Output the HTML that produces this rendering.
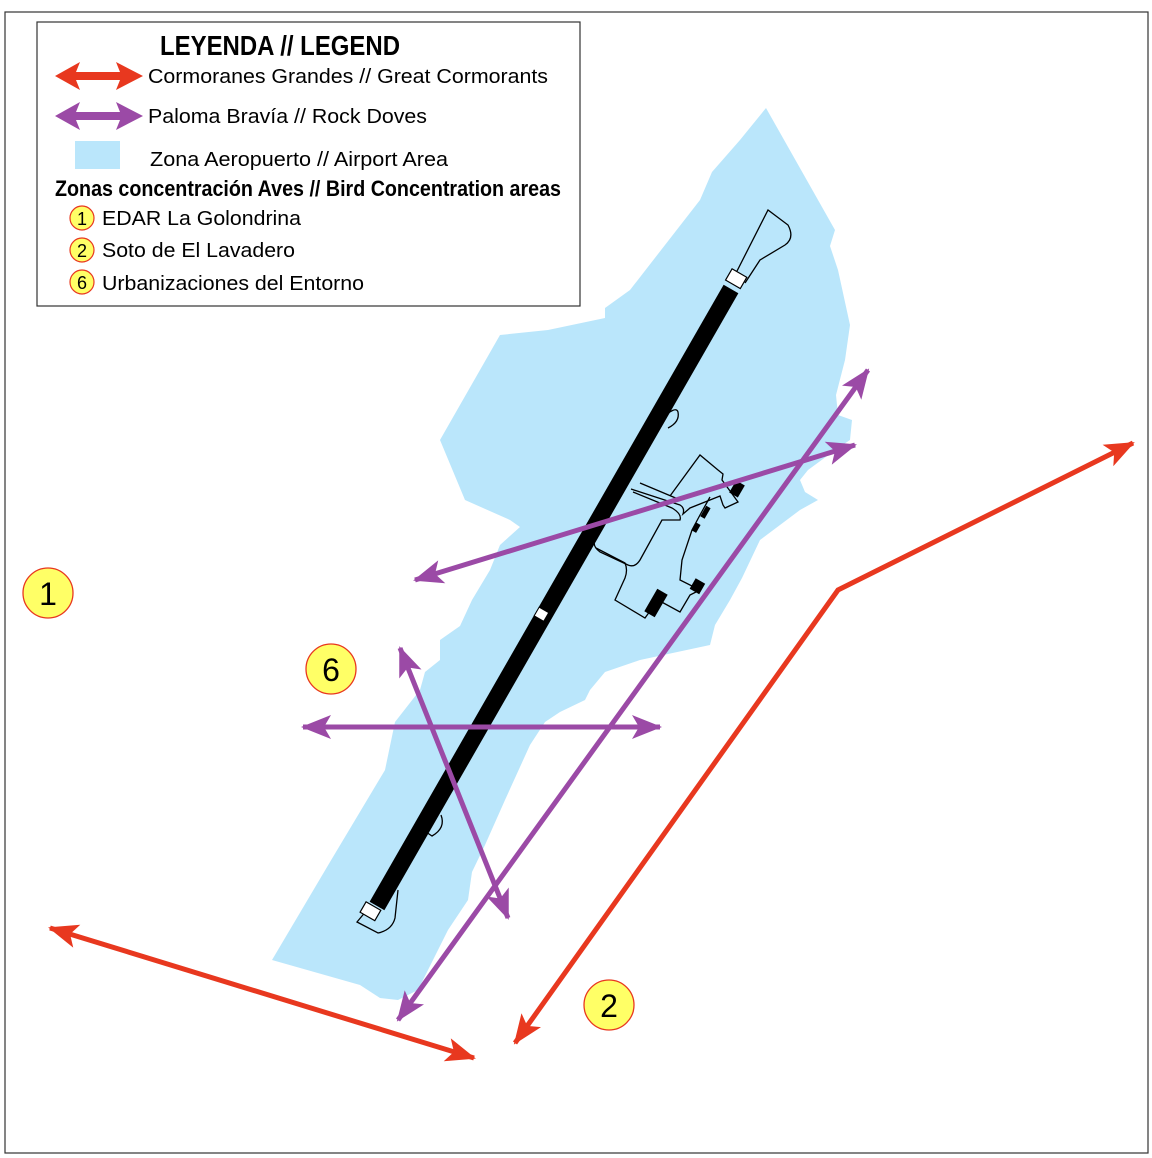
<!DOCTYPE html>
<html><head><meta charset="utf-8"><style>
html,body{margin:0;padding:0;background:#fff;}
svg{display:block;}
text{font-family:"Liberation Sans",sans-serif;fill:#000;}
</style></head><body>
<svg width="1152" height="1158" viewBox="0 0 1152 1158" xmlns="http://www.w3.org/2000/svg">
<defs>
<marker id="hr" markerUnits="userSpaceOnUse" viewBox="0 0 30 24" markerWidth="30" markerHeight="24" refX="28" refY="12" orient="auto-start-reverse">
<path d="M0,0 L30,12 L0,24 L7,12 Z" fill="#e8381f"/></marker>
<marker id="hp" markerUnits="userSpaceOnUse" viewBox="0 0 30 24" markerWidth="30" markerHeight="24" refX="28" refY="12" orient="auto-start-reverse">
<path d="M0,0 L30,12 L0,24 L7,12 Z" fill="#9b4aa6"/></marker>
</defs>
<rect x="5" y="12" width="1143" height="1141" fill="#fff" stroke="#333" stroke-width="1.2"/>
<!-- airport area -->
<path fill="#bae6fb" d="M766,108 L835,230 L830,246 L838,270 L850,325 L845,360 L836,395 L838,415 L852,420 L850,440 L838,448 L808,470 L800,480 L805,492 L818,500 L800,510 L760,540 L742,578 L730,600 L715,625 L710,645 L640,660 L605,672 L590,690 L585,700 L560,712 L545,722 L530,745 L505,800 L485,845 L472,872 L468,900 L448,930 L418,990 L398,1000 L380,998 L360,985 L272,960 L330,862 L385,770 L395,722 L420,690 L425,672 L440,660 L440,640 L460,626 L472,600 L490,570 L500,545 L520,527 L510,520 L465,500 L440,440 L500,335 L548,330 L605,318 L605,308 L630,290 L700,200 L712,172 L740,140 Z"/>
<!-- terminal outlines -->
<g fill="none" stroke="#000" stroke-width="1.3">
<path d="M640,483 L678,499 M631,489 L680,505 Q685,508 683,514 L690,508 L720,496 L723,505 L725,508 L738,502 L722,480 L723,474 L718,470 L700,455 L670,496 M633,492 L672,508 Q682,514 680,520 L662,520 L640,560 Q635,568 628,565 L600,552 Q592,546 595,540"/>
<path d="M596,548 L625,563 Q628,570 625,578 L615,600 L645,618 L658,600 L680,612 L690,595 L700,590 L680,580 L682,560 L692,530 L700,515 L710,497"/>
<path d="M660,420 Q676,405 678,412 Q680,422 668,428"/>
<path d="M441,815 Q446,828 432,836 L426,832"/>
<path d="M735,275 L768,210 L788,225 Q795,238 785,245 L760,260 L745,283"/>
<path d="M367,910 L357,922 L378,933 Q392,930 395,918 L398,890"/>
</g>
<rect x="732" y="482" width="10" height="14" fill="#000" transform="rotate(30 737 489)"/>
<rect x="692" y="580" width="11" height="12" fill="#000" transform="rotate(30 697 586)"/>
<rect x="650" y="590" width="12" height="26" fill="#000" transform="rotate(30 656 603)"/>
<rect x="703" y="506" width="5" height="12" fill="#000" transform="rotate(30 705 512)"/>
<rect x="694" y="523" width="5" height="9" fill="#000" transform="rotate(30 696 527)"/>
<!-- runway -->
<line x1="377" y1="906" x2="731" y2="289" stroke="#000" stroke-width="17"/>
<rect x="536" y="609" width="11" height="10" fill="#fff" stroke="#000" transform="rotate(30 541 614)"/>
<rect x="728" y="272" width="17" height="13" fill="#fff" stroke="#000" stroke-width="1.2" transform="rotate(30 736 278)"/>
<rect x="362" y="905" width="17" height="12" fill="#fff" stroke="#000" stroke-width="1.2" transform="rotate(30 370 911)"/>
<!-- arrows -->
<g fill="none" stroke-width="5">
<line x1="50" y1="928" x2="474" y2="1058" stroke="#e8381f" marker-start="url(#hr)" marker-end="url(#hr)"/>
<polyline points="515,1043 838,590 1133,443" stroke="#e8381f" marker-start="url(#hr)" marker-end="url(#hr)"/>
<line x1="415" y1="580" x2="855" y2="445" stroke="#9b4aa6" marker-start="url(#hp)" marker-end="url(#hp)"/>
<line x1="398" y1="1020" x2="868" y2="370" stroke="#9b4aa6" marker-start="url(#hp)" marker-end="url(#hp)"/>
<line x1="303" y1="727" x2="660" y2="727" stroke="#9b4aa6" marker-start="url(#hp)" marker-end="url(#hp)"/>
<line x1="400" y1="648" x2="508" y2="918" stroke="#9b4aa6" marker-start="url(#hp)" marker-end="url(#hp)"/>
</g>
<!-- numbered circles -->
<g stroke="#e8381f" stroke-width="1.3" fill="#ffff66">
<circle cx="48" cy="593" r="25"/><circle cx="331" cy="669" r="25"/><circle cx="609" cy="1005" r="25"/>
</g>
<g font-size="32" text-anchor="middle">
<text x="48" y="605">1</text><text x="331" y="681">6</text><text x="609" y="1017">2</text>
</g>
<!-- legend -->
<rect x="37" y="22" width="543" height="284" fill="#fff" stroke="#333" stroke-width="1.2"/>
<text x="160" y="55" font-size="28" font-weight="bold" textLength="240" lengthAdjust="spacingAndGlyphs">LEYENDA // LEGEND</text>
<polygon points="55,76 80,62 76,72 120,72 116,62 143,76 116,90 120,80 76,80 80,90" fill="#e8381f"/>
<polygon points="55,116 80,102 76,112 120,112 116,102 143,116 116,130 120,120 76,120 80,130" fill="#9b4aa6"/>
<text x="148" y="83" font-size="20" textLength="400" lengthAdjust="spacingAndGlyphs">Cormoranes Grandes // Great Cormorants</text>
<text x="148" y="123" font-size="20" textLength="279" lengthAdjust="spacingAndGlyphs">Paloma Bravía // Rock Doves</text>
<rect x="75" y="141" width="45" height="28" fill="#bae6fb"/>
<text x="150" y="166" font-size="20" textLength="298" lengthAdjust="spacingAndGlyphs">Zona Aeropuerto // Airport Area</text>
<text x="55" y="196" font-size="22" font-weight="bold" textLength="506" lengthAdjust="spacingAndGlyphs">Zonas concentración Aves // Bird Concentration areas</text>
<g stroke="#e8381f" stroke-width="1.2" fill="#ffff66">
<circle cx="82" cy="218" r="12"/><circle cx="82" cy="250" r="12"/><circle cx="82" cy="282" r="12"/>
</g>
<g font-size="18" text-anchor="middle"><text x="82" y="225">1</text><text x="82" y="257">2</text><text x="82" y="289">6</text></g>
<text x="102" y="225" font-size="20" textLength="199" lengthAdjust="spacingAndGlyphs">EDAR La Golondrina</text>
<text x="102" y="257" font-size="20" textLength="193" lengthAdjust="spacingAndGlyphs">Soto de El Lavadero</text>
<text x="102" y="290" font-size="20" textLength="262" lengthAdjust="spacingAndGlyphs">Urbanizaciones del Entorno</text>
</svg>
</body></html>
